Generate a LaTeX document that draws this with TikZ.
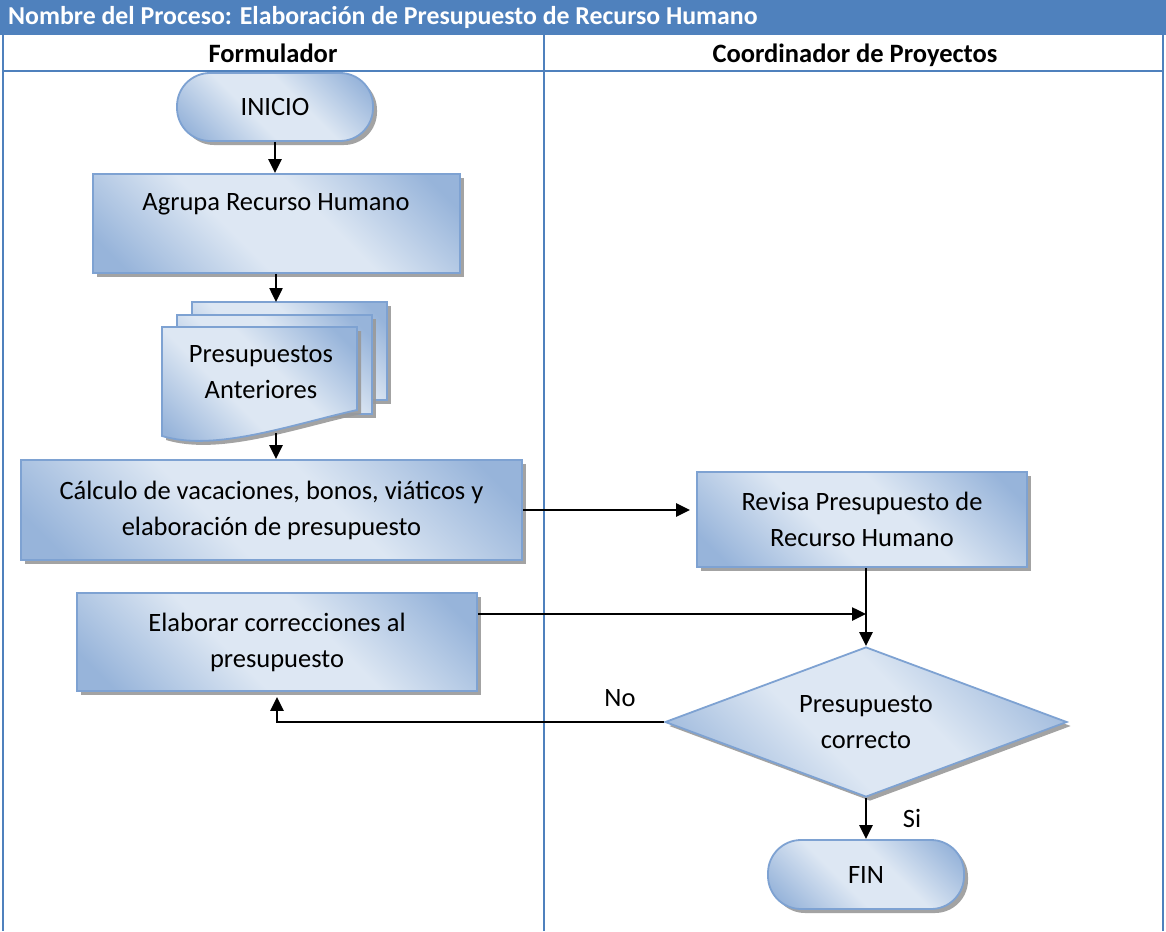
\documentclass[tikz,border=0pt]{standalone}
\usepackage{fontspec}
\setmainfont{Carlito}
\usetikzlibrary{arrows.meta,shapes.geometric,shadows,calc}
\definecolor{band}{HTML}{4F81BD}
\definecolor{shapedark}{HTML}{97B4DA}
\definecolor{shapelight}{HTML}{DDE7F3}
\definecolor{shapeline}{HTML}{7EA2D2}
\pgfdeclareverticalshading{boxshade}{100bp}{%
  color(0bp)=(shapedark); color(20bp)=(shapedark); color(42bp)=(shapelight);
  color(58bp)=(shapelight); color(80bp)=(shapedark); color(100bp)=(shapedark)}
\newcommand\bodyfont{\fontsize{26.5}{36}\selectfont}
\tikzset{
  x=1pt, y=-1pt,
  lane/.style={draw=band, line width=2pt},
  shapefill/.style={shading=boxshade, shading angle=-45,
    draw=shapeline, line width=1.8pt,
    drop shadow={shadow xshift=4pt, shadow yshift=-4pt, fill=black!40, opacity=0.9}},
  procbox/.style={shapefill, rectangle, inner sep=0pt, font=\bodyfont, align=center},
  terminal/.style={procbox, rounded corners=33pt},
  decision/.style={shapefill, diamond, inner sep=0pt, font=\bodyfont, align=center},
  txt/.style={font=\bodyfont, align=center, inner sep=0pt},
  flow/.style={line width=2.5pt, -{Triangle[length=14pt,width=13pt]}},
}
\begin{document}
\begin{tikzpicture}
\useasboundingbox (0,0) rectangle (1166,931);

% title band and swimlane frame
\fill[band] (0,0) rectangle (1166,35);
\node[anchor=west, text=white, font=\fontsize{25.8}{30}\selectfont\bfseries, inner sep=0pt] (title) at (8,17)
  {Nombre del Proceso: Elaboración de Presupuesto de Recurso Humano};
\draw[lane] (3,35) -- (3,931);
\draw[lane] (544,35) -- (544,931);
\draw[lane] (1163,35) -- (1163,931);
\draw[lane] (3,71) -- (1163,71);
\node[txt, font=\bodyfont\bfseries, anchor=base] (lane1) at (273,63) {Formulador};
\node[txt, font=\bodyfont\bfseries, anchor=base] (lane2) at (855,63) {Coordinador de Proyectos};

% Formulador lane
\node[terminal, minimum width=196pt, minimum height=68pt] (inicio) at (275,107) {INICIO};
\node[procbox, minimum width=367pt, minimum height=99pt] (agrupa) at (276.5,223.5) {};
\node[txt] (agrupatxt) at (276,204) {Agrupa Recurso Humano};

% stacked documents
\path[shapefill] (192,302) rectangle (387,400);
\path[shapefill] (177,315) rectangle (372,414);
\path[shapefill] (162,327) -- (357,327) -- (357,410)
  .. controls (290,425) and (215,452) .. (162,436) -- cycle;
\node[txt] (docs) at (261,372) {Presupuestos\\Anteriores};
\coordinate (doctop) at (276,302);
\coordinate (docbottom) at (276,433);

\node[procbox, minimum width=501pt, minimum height=100pt] (calc) at (271.5,510)
  {Cálculo de vacaciones, bonos, viáticos y\\elaboración de presupuesto};
\node[procbox, minimum width=400pt, minimum height=98pt] (elab) at (277,642)
  {Elaborar correcciones al\\presupuesto};

% Coordinador lane
\node[procbox, minimum width=330pt, minimum height=95pt] (revisa) at (862,519.5)
  {Revisa Presupuesto de\\Recurso Humano};
\node[decision, shape aspect=2.68, minimum width=402pt, minimum height=150pt] (dia) at (866,722)
  {Presupuesto\\correcto};
\node[terminal, minimum width=196pt, minimum height=69pt] (fin) at (866,874.5) {FIN};

% connectors
\coordinate (elabout) at (elab.east |- 0,614);
\draw[flow] (inicio.south) -- (inicio.south |- agrupa.north);
\draw[flow] (agrupa.south -| doctop) -- (doctop);
\draw[flow] (docbottom) -- (docbottom |- calc.north);
\draw[flow, shorten >=6pt] (calc.east) -- (calc.east -| revisa.west);
\draw[flow] (elabout) -- (elabout -| dia.north);
\draw[flow] (dia.north |- revisa.south) -- (dia.north);
\draw[flow, shorten >=5pt] (dia.west) -| (elab.south);
\draw[flow] (dia.south) -- (dia.south |- fin.north);
\node[txt] (nolbl) at (620,698) {No};
\node[txt] (silbl) at (912,818) {Si};
\end{tikzpicture}
\end{document}
